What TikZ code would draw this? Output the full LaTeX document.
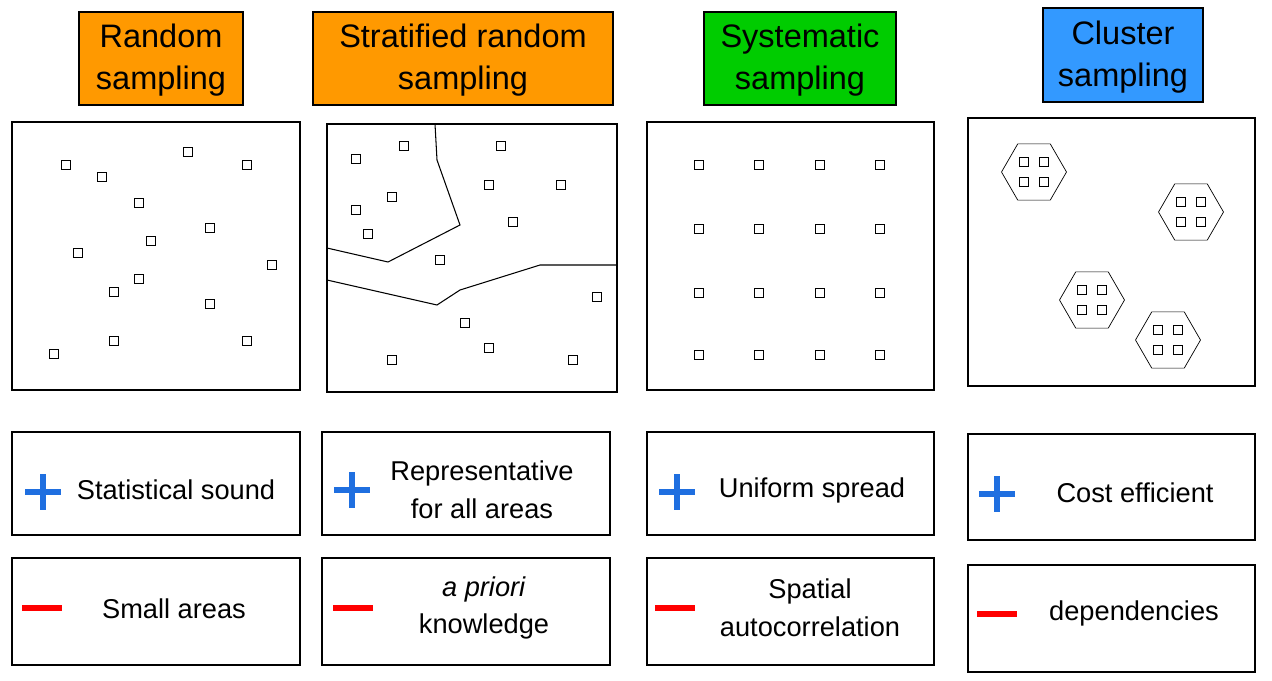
\documentclass[tikz,border=0pt]{standalone}
\usepackage{fontspec}
\setmainfont{Liberation Sans}
\usetikzlibrary{positioning,shapes.geometric,calc}
\definecolor{hdorange}{HTML}{FF9900}
\definecolor{hdgreen}{HTML}{00CC00}
\definecolor{hdblue}{HTML}{3399FF}
\definecolor{plusblue}{HTML}{1F6FE0}
\tikzset{
  head/.style={draw=black, thick},
  htxt/.style={align=center, font=\fontsize{18.5}{24}\selectfont},
  panel/.style={draw=black, thick},
  pt/.style={draw=black, semithick, minimum size=5.5pt, inner sep=0pt},
  txt/.style={align=center, font=\fontsize{15.5}{21.5}\selectfont},
  hex/.style={draw=black, regular polygon, regular polygon sides=6, minimum size=1.3cm, inner sep=0pt}
}
\newcommand{\plussign}[1]{\draw[plusblue, line width=3.5pt] ($(#1)+(-18,0)$) -- ($(#1)+(18,0)$) ($(#1)+(0,-18)$) -- ($(#1)+(0,18)$);}
\begin{document}
\begin{tikzpicture}[x=0.02cm, y=-0.02cm]
 \useasboundingbox (0,0) rectangle (1272,680);

 % header boxes
 \draw[head, fill=hdorange] (79,12) rectangle (243,105);
 \node (h1) [htxt] at (161,60) {Random\\sampling};
 \draw[head, fill=hdorange] (313,12) rectangle (613,105);
 \node (h2) [htxt] at (463,60) {Stratified random\\sampling};
 \draw[head, fill=hdgreen] (704,12) rectangle (896,105);
 \node (h3) [htxt] at (800,60) {Systematic\\sampling};
 \draw[head, fill=hdblue] (1043,8) rectangle (1203,102);
 \node (h4) [htxt] at (1123,57) {Cluster\\sampling};

 % panels
 \draw[panel] (12,122) rectangle (300,390);
 \draw[panel] (327,124) rectangle (617,392);
 \draw[panel] (647,122) rectangle (934,390);
 \draw[panel] (968,118) rectangle (1255,386);

 % random points
 \foreach \x/\y in {66/165,102/177,188/152,247/165,139/203,210/228,78/253,151/241,272/265,139/279,114/292,210/304,54/354,114/341,247/341}
   \node[pt] at (\x,\y) {};

 % stratified points and strata
 \foreach \x/\y in {356/159,404/146,501/146,489/185,561/185,392/197,356/210,513/222,368/234,440/260,597/297,465/323,489/348,392/360,573/360}
   \node[pt] at (\x,\y) {};
 \draw[semithick] (435,124) -- (437,160) -- (460,225) -- (388,262) -- (327,248);
 \draw[semithick] (327,280) -- (437,305) -- (460,290) -- (540,265) -- (617,265);

 % systematic grid
 \foreach \x in {699,759,820,880}
   \foreach \y in {165,229,293,355}
     \node[pt] at (\x,\y) {};

 % clusters
 \foreach \n/\cx/\cy in {c1/1034/172,c2/1191/212,c3/1092/300,c4/1168/340}{
   \node[hex] (\n) at (\cx,\cy) {};
   \foreach \dx/\dy in {-10/-10,10/-10,-10/10,10/10}
     \node[pt] at ($(\n)+(\dx,\dy)$) {};
 }

 % plus boxes
 \draw[panel] (12,432) rectangle (300,535);
 \draw[panel] (322,432) rectangle (610,535);
 \draw[panel] (647,432) rectangle (934,535);
 \draw[panel] (968,434) rectangle (1255,540);
 \coordinate (p1) at (43,492); \plussign{p1}
 \coordinate (p2) at (352,490); \plussign{p2}
 \coordinate (p3) at (677,492); \plussign{p3}
 \coordinate (p4) at (997,494); \plussign{p4}
 \node (a1) [txt] at (176,490) {Statistical sound};
 \node (a2) [txt] at (482,490) {Representative\\for all areas};
 \node (a3) [txt] at (812,490) {Uniform spread};
 \node (a4) [txt] at (1135,493) {Cost efficient};

 % minus boxes
 \draw[panel] (12,558) rectangle (300,665);
 \draw[panel] (322,558) rectangle (610,665);
 \draw[panel] (647,558) rectangle (934,665);
 \draw[panel] (968,565) rectangle (1255,672);
 \foreach \n/\x/\y in {m1/22/608,m2/333/608,m3/655/608,m4/977/614}{
   \coordinate (\n) at (\x,\y);
   \draw[red, line width=3.5pt] (\n) -- ++(40,0);
 }
 \node (b1) [txt] at (174,609) {Small areas};
 \node (b2) [txt] at (484,608) {\textit{a priori}\\knowledge};
 \node (b3) [txt] at (810,608) {Spatial\\autocorrelation};
 \node (b4) [txt] at (1134,613) {dependencies};
\end{tikzpicture}
\end{document}
